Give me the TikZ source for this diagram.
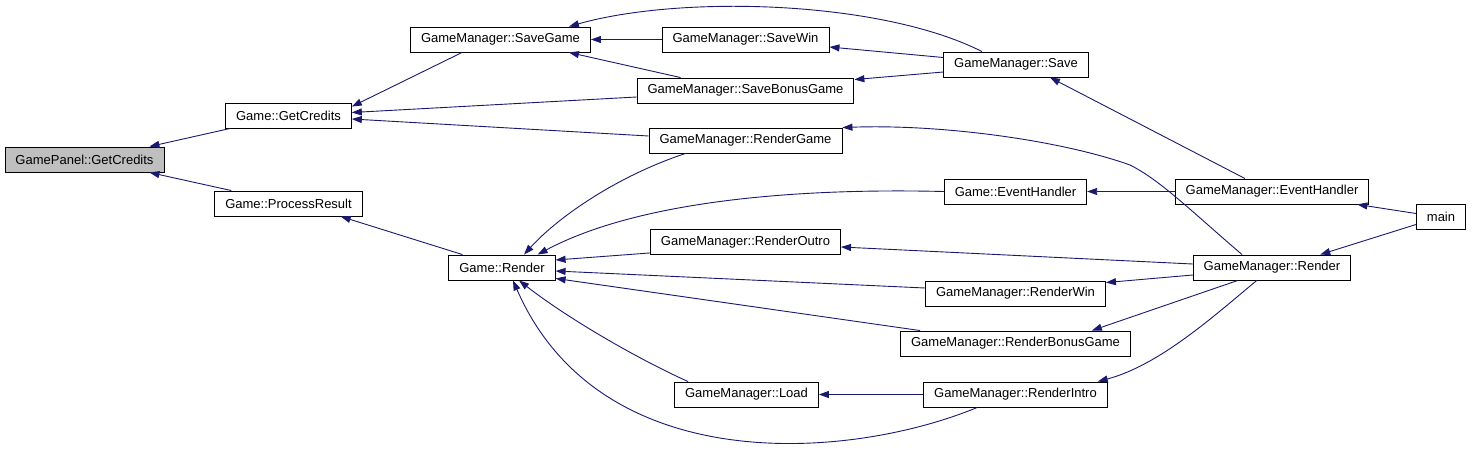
\documentclass[tikz,border=0pt]{standalone}
\usepackage{fontspec}
\setmainfont{Liberation Sans}
\usetikzlibrary{arrows.meta}
\definecolor{edgeblue}{HTML}{191970}
\definecolor{fngray}{HTML}{BFBFBF}

\begin{document}
\begin{tikzpicture}[x=1pt, y=-1pt,
  fn/.style={draw, line width=0.9pt, minimum height=25pt, inner xsep=10.5pt,
    inner ysep=0pt, font=\fontsize{13}{15}\selectfont},
  call/.style={draw=edgeblue, line width=0.9pt,
    -{Triangle[length=10pt,width=7pt]}, edgeblue}]
  \useasboundingbox (0,0) rectangle (1472,450);
  % column 1-3
  \node[fn, fill=fngray] (GPC) at (84.5,159.5) {GamePanel::GetCredits};
  \node[fn] (GC)  at (288.5,115.5) {Game::GetCredits};
  \node[fn] (GPR) at (288.5,203.5) {Game::ProcessResult};
  \node[fn] (GR)  at (502,267.5) {Game::Render};
  % column 4
  \node[fn] (SG)  at (500.5,39.5) {GameManager::SaveGame};
  \node[fn] (SW)  at (745.5,39.5) {GameManager::SaveWin};
  \node[fn] (SBG) at (745.5,90.5) {GameManager::SaveBonusGame};
  \node[fn] (RG)  at (745.5,140.5) {GameManager::RenderGame};
  \node[fn] (RO)  at (745.5,242) {GameManager::RenderOutro};
  \node[fn] (LD)  at (746.5,394.5) {GameManager::Load};
  % column 5
  \node[fn] (SV)  at (1016,64.5) {GameManager::Save};
  \node[fn] (GEH) at (1015.5,191.5) {Game::EventHandler};
  \node[fn] (RW)  at (1015.5,293.5) {GameManager::RenderWin};
  \node[fn] (RBG) at (1015.5,343.5) {GameManager::RenderBonusGame};
  \node[fn] (RI)  at (1015.5,394.5) {GameManager::RenderIntro};
  % column 6-7
  \node[fn] (GMEH) at (1272,191.5) {GameManager::EventHandler};
  \node[fn] (GMR)  at (1272,267.5) {GameManager::Render};
  \node[fn] (MN)   at (1441,216.5) {main};
  % straight calls
  \foreach \from/\to in {SW/SG, GMEH/GEH, RI/LD}
    \draw[call] (\from.west) -- (\to.east);
  \draw[call] ([xshift=5pt]GC.south west) -- ([xshift=-15pt]GPC.north east);
  \draw[call] ([xshift=17pt]GPR.north west) -- ([xshift=-15pt]GPC.south east);
  \draw[call] ([xshift=52pt]SG.south west) -- ([yshift=-4pt]GC.north east);
  \draw[call] ([yshift=-6.5pt]SBG.west) -- ([yshift=3pt]GC.east);
  \draw[call] ([yshift=4.5pt]RG.west) -- ([yshift=-3.5pt]GC.east);
  \draw[call] ([xshift=14pt]GR.north west) -- ([xshift=-22pt]GPR.south east);
  \draw[call] ([xshift=44pt]SBG.north west) -- ([xshift=-22pt]SG.south east);
  \draw[call] ([yshift=7pt]SV.west) -- ([yshift=-7.5pt]SW.east);
  \draw[call] ([yshift=-7.5pt]SV.west) -- ([yshift=-2pt]SBG.north east);
  \draw[call] ([xshift=-27pt]GMEH.north) -- ([xshift=34pt]SV.south);
  \draw[call] ([yshift=2pt]RO.south west) -- ([yshift=7.5pt]GR.east);
  \draw[call] ([yshift=5.5pt]RW.west) -- ([yshift=-3.5pt]GR.east);
  \draw[call] ([xshift=20pt]RBG.north west) -- ([yshift=2pt]GR.south east);
  \draw[call] ([yshift=3.5pt]GMR.west) -- ([yshift=-5pt]RO.east);
  \draw[call] ([yshift=-7.5pt]GMR.west) -- ([yshift=-2pt]RW.north east);
  \draw[call] ([xshift=45pt]GMR.south west) -- ([xshift=-39pt]RBG.north east);
  \draw[call] ([yshift=3pt]MN.west) -- ([xshift=-12pt]GMEH.south east);
  \draw[call] ([yshift=-8pt]MN.west) -- ([xshift=-31pt]GMR.north east);
  % curved calls
  \draw[call] ([xshift=-34pt]SV.north) .. controls (880,0) and (680,-5) .. ([xshift=-22pt]SG.north east);
  \draw[call] ([xshift=-30pt]GMR.north) .. controls (1190,210) and (1160,180) .. (1130,165)
    .. controls (1060,140) and (940,124) .. (RG.north east);
  \draw[call] ([xshift=37pt]RG.south west) .. controls (620,175) and (560,215) .. ([xshift=22pt]GR.north);
  \draw[call] (GEH.west) .. controls (800,188) and (640,200) .. ([xshift=-18pt]GR.north east);
  \draw[call] ([xshift=14pt]LD.north west) .. controls (640,360) and (570,320) .. ([xshift=17pt]GR.south);
  \draw[call] ([xshift=54pt]RI.south west) .. controls (850,460) and (600,480) .. ([xshift=11pt]GR.south);
  \draw[call] ([xshift=64pt]GMR.south west) .. controls (1215,315) and (1160,365) .. ([xshift=-10pt]RI.north east);
\end{tikzpicture}
\end{document}
